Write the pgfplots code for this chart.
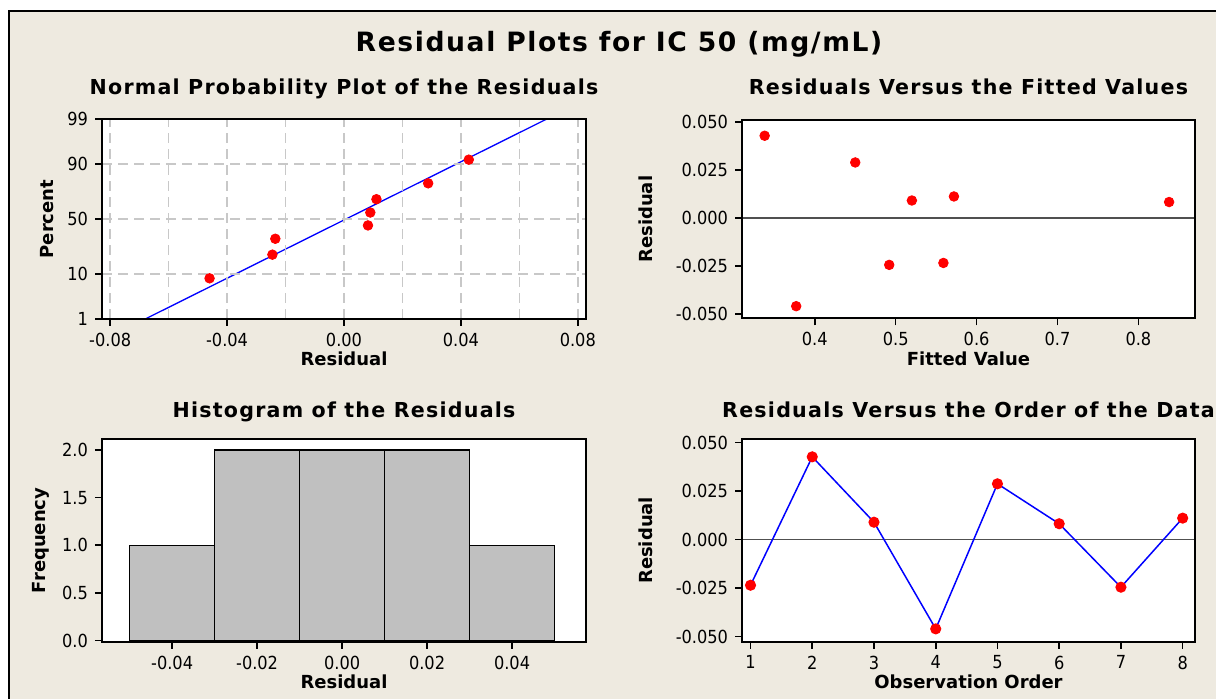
\documentclass[border=0pt]{standalone}
\usepackage{fontspec}
\setmainfont{DejaVu Sans Condensed}
\newfontfamily\widefont{DejaVu Sans}
\newfontfamily\titlefont{DejaVu Sans}[LetterSpace=6]
\usepackage{pgfplots}
\pgfplotsset{compat=1.18}

\definecolor{panel}{RGB}{238,234,224}
\definecolor{gridgray}{RGB}{200,200,200}
\definecolor{barfill}{RGB}{192,192,192}
\definecolor{zeroline}{RGB}{80,80,80}

\newcommand{\tickfont}{\fontsize{9}{10}\selectfont}
\newcommand{\labfont}{\widefont\fontsize{9}{10}\selectfont\bfseries}
\newcommand{\subfont}{\titlefont\fontsize{10.3}{12}\selectfont\bfseries}

\pgfplotsset{
  mtb/.style={
    scale only axis,
    anchor=south west,
    axis on top,
    scaled ticks=false,
    axis background/.style={fill=white},
    axis line style={line width=1pt},
    tick align=outside,
    tick pos=left,
    major tick length=3.5pt,
    minor tick length=0pt,
    every tick/.style={black, line width=0.8pt},
    ticklabel style={font=\tickfont},
  },
  dot/.style={only marks, mark=*, mark size=2.4pt, color=red},
}

\begin{document}
\begin{tikzpicture}
\useasboundingbox (0,0) rectangle (608pt,349.5pt);
\fill[white] (0,0) rectangle (608pt,349.5pt);
\fill[panel] (4.5pt,0) rectangle (608pt,344pt);
\draw[line width=1pt] (4.5pt,-1pt) -- (4.5pt,344pt) -- (609pt,344pt);

\node[anchor=base, font=\titlefont\fontsize{13.3}{15}\selectfont\bfseries] at (309.5pt,323.6pt)
  {Residual Plots for IC 50 (mg/mL)};

% normal probability plot (y = normal score of the percent)
\begin{axis}[mtb,
  at={(51pt,190pt)}, width=242pt, height=100pt,
  xmin=-0.0828, xmax=0.0828, ymin=-2.3263, ymax=2.3263,
  xtick={-0.08,-0.04,0,0.04,0.08},
  xticklabels={-0.08,-0.04,0.00,0.04,0.08},
  minor xtick={-0.06,-0.02,0.02,0.06},
  ytick={-2.3263,-1.2816,0,1.2816,2.3263},
  yticklabels={1,10,50,90,99},
  grid=both,
  major grid style={gridgray, line width=0.75pt, dash pattern=on 5pt off 3pt},
  minor grid style={gridgray, line width=0.75pt, dash pattern=on 5pt off 3pt},
  title={Normal Probability Plot of the Residuals},
  every axis title/.style={at={(axis description cs:0.5,1.12)}, anchor=base, font=\subfont},
  xlabel={Residual},
  every axis x label/.style={at={(axis description cs:0.5,-0.235)}, anchor=base, font=\labfont},
  ylabel={Percent},
  every axis y label/.style={at={(axis description cs:-0.101,0.5)}, rotate=90, anchor=base, font=\labfont},
]
\addplot[blue, line width=0.65pt] coordinates {(-0.0680,-2.3263) (0.0694,2.3263)};
\addplot[dot] coordinates {
(-0.0460,-1.38) (-0.0245,-0.83) (-0.0235,-0.46) (0.0082,-0.15)
(0.0090,0.15) (0.0111,0.46) (0.0288,0.83) (0.0427,1.38)
};
\end{axis}

% residuals versus fitted values
\begin{axis}[mtb,
  at={(371pt,190.25pt)}, width=226.5pt, height=99.25pt,
  xmin=0.310, xmax=0.870, ymin=-0.0524, ymax=0.0509,
  xtick={0.4,0.5,0.6,0.7,0.8},
  xticklabels={0.4,0.5,0.6,0.7,0.8},
  ytick={-0.05,-0.025,0,0.025,0.05},
  yticklabels={-0.050,-0.025,0.000,0.025,0.050},
  title={Residuals Versus the Fitted Values},
  every axis title/.style={at={(axis description cs:0.5,1.126)}, anchor=base, font=\subfont},
  xlabel={Fitted Value},
  every axis x label/.style={at={(axis description cs:0.5,-0.239)}, anchor=base, font=\labfont},
  ylabel={Residual},
  every axis y label/.style={at={(axis description cs:-0.1965,0.5)}, rotate=90, anchor=base, font=\labfont},
]
\addplot[zeroline, line width=0.75pt] coordinates {(0.310,0) (0.870,0)};
\addplot[dot] coordinates {
(0.338,0.0427) (0.377,-0.0460) (0.450,0.0288) (0.492,-0.0245)
(0.520,0.0090) (0.559,-0.0235) (0.572,0.0111) (0.838,0.0082)
};
\end{axis}

% histogram
\begin{axis}[mtb,
  at={(51pt,28.65pt)}, width=242pt, height=101.35pt,
  xmin=-0.0565, xmax=0.0574, ymin=-0.012, ymax=2.116,
  xtick={-0.04,-0.02,0,0.02,0.04},
  xticklabels={-0.04,-0.02,0.00,0.02,0.04},
  ytick={0,0.5,1,1.5,2},
  yticklabels={0.0,0.5,1.0,1.5,2.0},
  title={Histogram of the Residuals},
  every axis title/.style={at={(axis description cs:0.5,1.1036)}, anchor=base, font=\subfont},
  xlabel={Residual},
  every axis x label/.style={at={(axis description cs:0.5,-0.233)}, anchor=base, font=\labfont},
  ylabel={Frequency},
  every axis y label/.style={at={(axis description cs:-0.1157,0.5)}, rotate=90, anchor=base, font=\labfont},
]
\addplot[ybar interval, fill=barfill, draw=black, line width=0.75pt] coordinates {
(-0.05,1) (-0.03,2) (-0.01,2) (0.01,2) (0.03,1) (0.05,1)
};
\end{axis}

% residuals versus order
\begin{axis}[mtb,
  at={(371pt,28.65pt)}, width=226.5pt, height=101.35pt,
  xmin=0.862, xmax=8.2, ymin=-0.0526, ymax=0.0519,
  xtick={1,2,3,4,5,6,7,8},
  ytick={-0.05,-0.025,0,0.025,0.05},
  yticklabels={-0.050,-0.025,0.000,0.025,0.050},
  xticklabels={1,2,3,4,5,6,7,8},
  title={Residuals Versus the Order of the Data},
  every axis title/.style={at={(axis description cs:0.5,1.1036)}, anchor=base, font=\subfont},
  xlabel={Observation Order},
  every axis x label/.style={at={(axis description cs:0.5,-0.233)}, anchor=base, font=\labfont},
  ylabel={Residual},
  every axis y label/.style={at={(axis description cs:-0.1965,0.5)}, rotate=90, anchor=base, font=\labfont},
]
\addplot[zeroline, line width=0.75pt] coordinates {(0.862,0) (8.2,0)};
\addplot[blue, line width=0.75pt, mark=*, mark size=2.4pt,
  mark options={red, fill=red}] coordinates {
(1,-0.0235) (2,0.0427) (3,0.0090) (4,-0.0460)
(5,0.0288) (6,0.0082) (7,-0.0245) (8,0.0111)
};
\end{axis}
\end{tikzpicture}
\end{document}
